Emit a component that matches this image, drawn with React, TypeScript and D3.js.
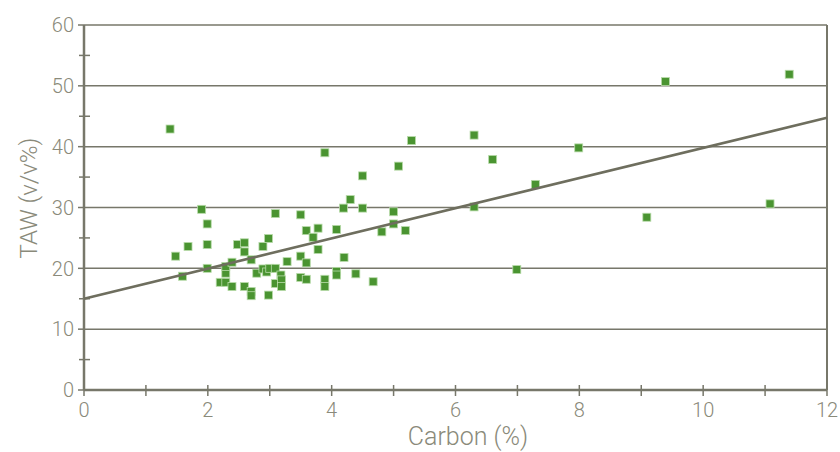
import React from "react";
import * as d3 from "d3";

// carbon (%) and TAW (v/v%)
const carbon = [
  1.39, 1.48, 1.59, 1.68, 1.9, 1.99, 1.99, 1.99, 2.2, 2.29, 2.29, 2.29, 2.39, 2.39,
  2.48, 2.59, 2.59, 2.59, 2.7, 2.7, 2.7, 2.79, 2.89, 2.89, 2.95, 2.98, 2.98, 3.0,
  3.09, 3.09, 3.09, 3.18, 3.19, 3.19, 3.28, 3.5, 3.5, 3.5, 3.59, 3.59, 3.59, 3.7,
  3.78, 3.78, 3.89, 3.89, 3.89, 4.08, 4.08, 4.08, 4.19, 4.2, 4.3, 4.39, 4.5, 4.5,
  4.67, 4.81, 5.0, 5.0, 5.08, 5.19, 5.29, 6.3, 6.3, 6.6, 6.99, 7.29, 7.99, 9.09,
  9.39, 11.08, 11.39,
];
const taw = [
  42.9, 22.0, 18.7, 23.6, 29.7, 27.3, 23.9, 20.0, 17.7, 17.7, 19.2, 20.3, 21.0, 17.0,
  23.9, 24.2, 22.7, 17.0, 21.4, 16.2, 15.5, 19.2, 23.6, 19.9, 19.4, 24.9, 15.6, 20.0,
  20.0, 29.0, 17.5, 18.9, 18.1, 17.0, 21.1, 28.8, 22.0, 18.5, 26.2, 20.9, 18.2, 25.1,
  26.6, 23.1, 39.0, 18.2, 17.0, 26.4, 19.5, 18.9, 29.9, 21.8, 31.3, 19.1, 35.2, 29.9,
  17.8, 26.0, 29.3, 27.3, 36.8, 26.2, 41.0, 41.9, 30.1, 37.9, 19.8, 33.8, 39.8, 28.4,
  50.7, 30.6, 51.9,
];

// trend line as drawn in the source
const fitIntercept = 15.0;
const fitSlope = 2.48;

const xTicks = [0, 2, 4, 6, 8, 10, 12];
const xMinor = [1, 3, 5, 7, 9, 11];
const yTicks = [0, 10, 20, 30, 40, 50, 60];
const yMinor = [5, 15, 25, 35, 45, 55];

const width = 840;
const height = 452;
const margin = { top: 25, right: 13, bottom: 62, left: 84 };

const axisColor = "#77776a";
const textColor = "#8a8a7a";
const font = "Roboto, 'Liberation Sans', Arial, sans-serif";

export default function App() {
  const x = d3.scaleLinear().domain([0, 12]).range([margin.left, width - margin.right]);
  const y = d3.scaleLinear().domain([0, 60]).range([height - margin.bottom, margin.top]);

  const points = carbon.map((c, i) => ({ c, t: taw[i] }));
  const fit = d3
    .line<number>()
    .x((d) => x(d))
    .y((d) => y(fitIntercept + fitSlope * d));

  const x0 = x(0);
  const x1 = x(12);
  const y0 = y(0);
  const size = 8;

  return (
    <svg
      width={width}
      height={height}
      style={{ position: "absolute", left: 0, top: 0, display: "block", background: "#fff" }}
      fontFamily={font}
    >
      {/* gridlines */}
      {yTicks.slice(1).map((t) => (
        <line key={"g" + t} x1={x0} x2={x1} y1={y(t)} y2={y(t)} stroke={axisColor} strokeWidth={1.5} />
      ))}
      {/* right frame */}
      <line x1={x1} x2={x1} y1={y(60)} y2={y0} stroke={axisColor} strokeWidth={2} />

      {/* y ticks */}
      {yTicks.map((t) => (
        <g key={"yt" + t}>
          <line x1={x0 - 6} x2={x0} y1={y(t)} y2={y(t)} stroke={axisColor} strokeWidth={1.5} />
          <text x={x0 - 10} y={y(t)} dy="0.36em" textAnchor="end" fontSize={20} fontWeight={300} fill={textColor}>
            {t}
          </text>
        </g>
      ))}
      {yMinor.map((t) => (
        <line key={"ym" + t} x1={x0 - 5} x2={x0 + 6} y1={y(t)} y2={y(t)} stroke={axisColor} strokeWidth={1.5} />
      ))}

      {/* x ticks */}
      {xTicks.concat(xMinor).map((t) => (
        <line key={"xt" + t} x1={x(t)} x2={x(t)} y1={y0 - 5} y2={y0 + 6} stroke={axisColor} strokeWidth={1.5} />
      ))}
      {xTicks.map((t) => (
        <text key={"xl" + t} x={x(t)} y={417} textAnchor="middle" fontSize={20} fontWeight={300} fill={textColor}>
          {t}
        </text>
      ))}

      {/* axes */}
      <line x1={x0} x2={x0} y1={y(60)} y2={y0} stroke={axisColor} strokeWidth={2.5} />
      <line x1={x0} x2={x1} y1={y0} y2={y0} stroke={axisColor} strokeWidth={2.5} />

      {/* points */}
      {points.map((p, i) => (
        <rect
          key={i}
          x={x(p.c) - size / 2}
          y={y(p.t) - size / 2}
          width={size}
          height={size}
          fill="#4a9431"
          stroke="#b8dbaa"
          strokeWidth={0.8}
        />
      ))}

      {/* trend line */}
      <path d={fit([0, 12]) ?? ""} fill="none" stroke="#6e6e5e" strokeWidth={2.6} />

      {/* axis titles */}
      <text x={468} y={445} textAnchor="middle" fontSize={25} fontWeight={300} fill={textColor}>
        Carbon (%)
      </text>
      <text
        transform={`translate(37,198) rotate(-90)`}
        textAnchor="middle"
        fontSize={24}
        fontWeight={300}
        fill={textColor}
      >
        TAW (v/v%)
      </text>
    </svg>
  );
}
